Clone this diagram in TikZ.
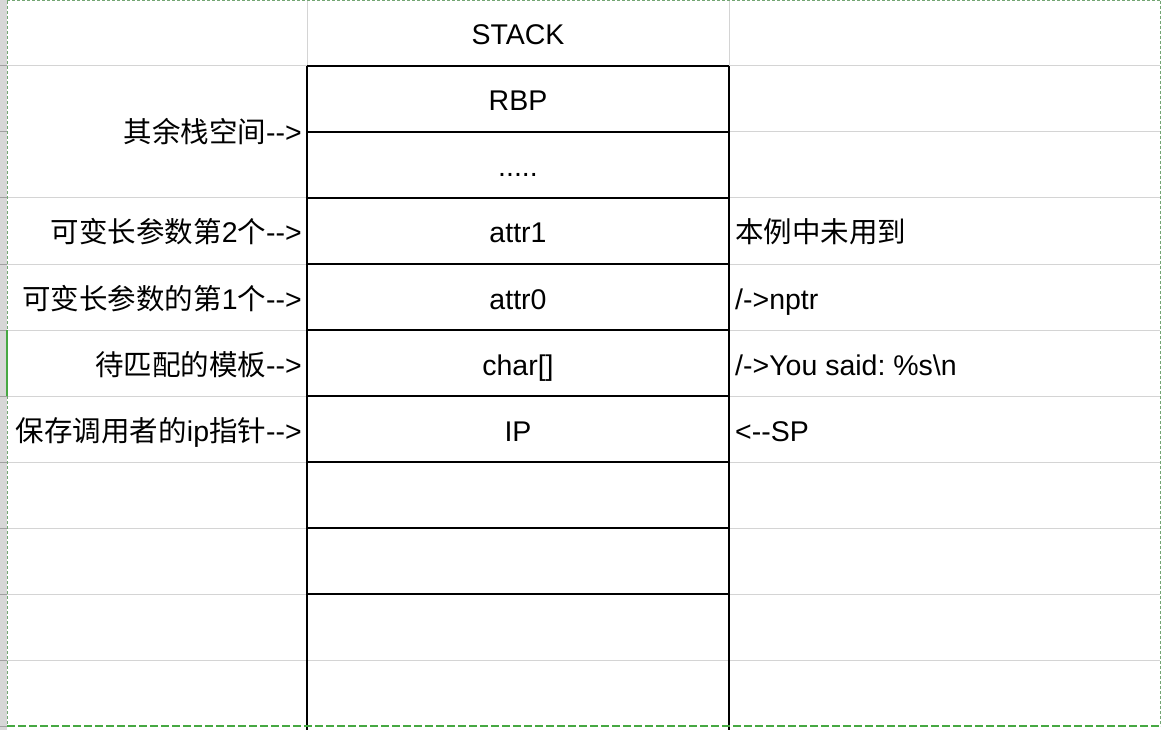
\documentclass[tikz,border=0pt]{standalone}
\usepackage{fontspec}
\setmainfont{Liberation Sans}
\newfontfamily\cjk{Noto Sans CJK SC}
\frenchspacing
\definecolor{gridgray}{RGB}{212,212,212}
\definecolor{stripgray}{RGB}{215,215,215}
\definecolor{tickgray}{RGB}{160,160,160}
\definecolor{selgreen}{RGB}{70,168,66}
\definecolor{antgreen}{RGB}{115,165,115}
\begin{document}
\begin{tikzpicture}[x=1pt,y=-1pt,
  txt/.style={inner sep=0pt, font=\fontsize{28.5}{34}\selectfont},
  midtxt/.style={txt, anchor=base},
  lefttxt/.style={txt, anchor=base east},
  righttxt/.style={txt, anchor=base west},
  gridline/.style={draw=gridgray, line width=1pt},
  cellline/.style={draw=black, line width=1.1pt},
  tickline/.style={draw=tickgray, line width=1pt}]
\useasboundingbox (0,0) rectangle (1162,730);
\fill[white] (0,0) rectangle (1162,730);
% row header strip
\fill[stripgray] (0,0) rectangle (7,730);
\foreach \y in {66,132,198,264,330,396,462,528,594,660,726}
  \draw[tickline] (0,\y) -- (7,\y);
% light grid, left column (rows 66-198 merged)
\foreach \y in {66,198,264,330,396,462,528,594,660}
  \draw[gridline] (7,\y) -- (307,\y);
% light grid, right column
\foreach \y in {66,132,198,264,330,396,462,528,594,660}
  \draw[gridline] (729,\y) -- (1160,\y);
\draw[gridline] (307,660) -- (729,660);
\draw[gridline] (307,0) -- (307,66);
\draw[gridline] (729,0) -- (729,66);
% stack cells
\draw[cellline] (307,66) -- (307,730);
\draw[cellline] (729,66) -- (729,730);
\foreach \y in {66,132,198,264,330,396,462,528,594}
  \draw[cellline] (307,\y) -- (729,\y);
% selection border
\draw[antgreen, line width=1pt, dash pattern=on 3pt off 2pt] (7,1) -- (1160,1);
\draw[antgreen, line width=1pt, dash pattern=on 3pt off 2pt] (7,1) -- (7,726);
\draw[antgreen, line width=1pt, dash pattern=on 3pt off 2pt] (1160,1) -- (1160,726);
\draw[selgreen, line width=2pt] (7,330) -- (7,396);
\draw[selgreen, line width=2.2pt, dash pattern=on 8pt off 3pt] (7,726) -- (1160,726);
% middle column
\node[midtxt] (stack) at (518,45) {STACK};
\node[midtxt] (rbp) at (518,111) {RBP};
\node[midtxt] (dots) at (518,177) {.....};
\node[midtxt] (attr1) at (518,243) {attr1};
\node[midtxt] (attr0) at (518,309) {attr0};
\node[midtxt] (chr) at (518,375) {char[]};
\node[midtxt] (ip) at (518,441) {IP};
% left column
\node[lefttxt] (l1) at (302,143) {{\cjk 其余栈空间}-{}->};
\node[lefttxt] (l2) at (302,243) {{\cjk 可变长参数第}2{\cjk 个}-{}->};
\node[lefttxt] (l3) at (302,309) {{\cjk 可变长参数的第}1{\cjk 个}-{}->};
\node[lefttxt] (l4) at (302,375) {{\cjk 待匹配的模板}-{}->};
\node[lefttxt] (l5) at (302,441) {{\cjk 保存调用者的}ip{\cjk 指针}-{}->};
% right column
\node[righttxt] (r1) at (735,243) {{\cjk 本例中未用到}};
\node[righttxt] (r2) at (735,309) {/->nptr};
\node[righttxt] (r3) at (735,375) {/->You said: \%s\textbackslash n};
\node[righttxt] (r4) at (735,441) {<-{}-SP};
\end{tikzpicture}
\end{document}
